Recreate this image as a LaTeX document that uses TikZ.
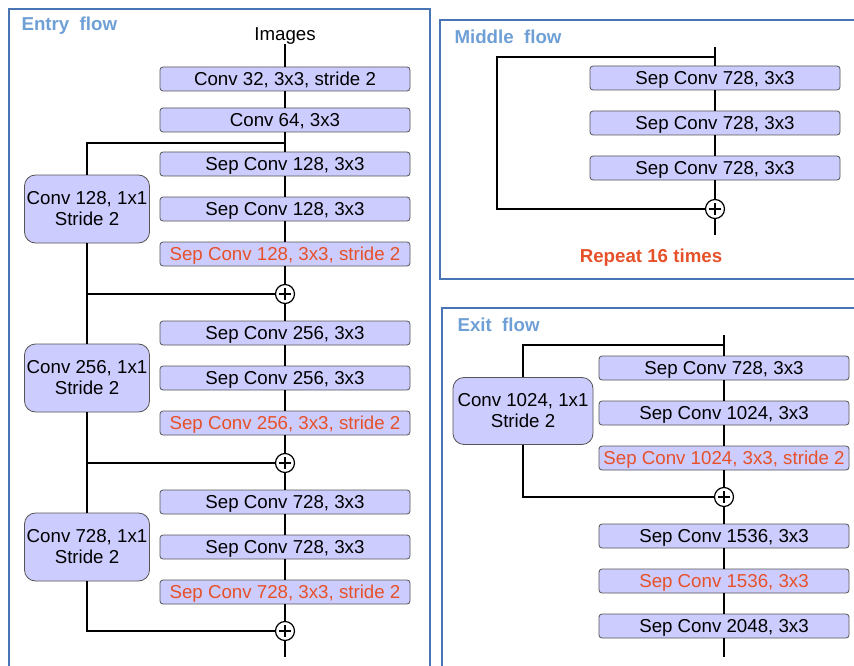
\documentclass[tikz,border=0pt]{standalone}
\usepackage{fontspec}
\setmainfont{Liberation Sans}
\usetikzlibrary{positioning}
\definecolor{lav}{HTML}{CCCCFF}
\definecolor{rimgray}{HTML}{555555}
\definecolor{panelblue}{HTML}{4A75B5}
\definecolor{titleblue}{HTML}{6E9FD5}
\definecolor{strred}{HTML}{E6512A}
\begin{document}
\begin{tikzpicture}[
  x=1pt, y=-1pt,
  layer/.style={rectangle, rounded corners=3pt, draw=rimgray, line width=0.8pt, fill=lav, minimum width=250pt, minimum height=24pt, inner sep=0pt, text height=13.4pt, text depth=0pt},
  shortcut/.style={rectangle, rounded corners=11pt, draw=rimgray, line width=0.8pt, fill=lav, minimum width=125pt, minimum height=68pt, inner sep=0pt, align=center},
  addop/.style={circle, draw, line width=1.2pt, fill=white, minimum size=19pt, inner sep=0pt,
    path picture={\draw[line width=1.2pt] ([xshift=-6pt]path picture bounding box.center) -- ([xshift=6pt]path picture bounding box.center);
                  \draw[line width=1.2pt] ([yshift=-6pt]path picture bounding box.center) -- ([yshift=6pt]path picture bounding box.center);}},
  panel/.style={draw=panelblue, line width=1.5pt},
  flowtitle/.style={anchor=west, text=titleblue, text height=13.4pt, text depth=0pt, font=\fontsize{18.7}{21}\selectfont\bfseries},
  link/.style={line width=1.5pt},
  stride/.style={text=strred},
  node distance=45pt,
  font=\fontsize{18.7}{21}\selectfont
]
\clip (0,0) rectangle (854,666);

% panels
\draw[panel] (9,9) rectangle (430,690);
\draw[panel] (440,20) rectangle (880,279);
\draw[panel] (442,308) rectangle (880,690);
\node[flowtitle] (tentry) at (18,24) {Entry\ \ flow};
\node[flowtitle] (tmiddle) at (451,37) {Middle\ \ flow};
\node[flowtitle] (texit) at (454,325) {Exit\ \ flow};

% entry flow
\node[text height=13.4pt, text depth=0pt] (img) at (285,34) {Images};
\node[layer] (c32) at (285,79) {Conv 32, 3x3, stride 2};
\node[layer] (c64) at (285,120) {Conv 64, 3x3};
\node[layer] (s1a) at (285,164) {Sep Conv 128, 3x3};
\node[layer, below of=s1a] (s1b) {Sep Conv 128, 3x3};
\node[layer, below of=s1b, stride] (s1c) {Sep Conv 128, 3x3, stride 2};
\node[addop] (p1) at (285,294) {};
\node[layer] (s2a) at (285,333) {Sep Conv 256, 3x3};
\node[layer, below of=s2a] (s2b) {Sep Conv 256, 3x3};
\node[layer, below of=s2b, stride] (s2c) {Sep Conv 256, 3x3, stride 2};
\node[addop] (p2) at (285,463) {};
\node[layer] (s3a) at (285,502) {Sep Conv 728, 3x3};
\node[layer, below of=s3a] (s3b) {Sep Conv 728, 3x3};
\node[layer, below of=s3b, stride] (s3c) {Sep Conv 728, 3x3, stride 2};
\node[addop] (p3) at (285,631) {};
\coordinate (eout) at (285,657);
\node[shortcut] (r1) at (87,209) {Conv 128, 1x1\\Stride 2};
\node[shortcut] (r2) at (87,378) {Conv 256, 1x1\\Stride 2};
\node[shortcut] (r3) at (87,547) {Conv 728, 1x1\\Stride 2};
\coordinate (b1) at (285,143);

\draw[link] (img) -- (c32);
\draw[link] (c32) -- (c64);
\draw[link] (c64) -- (s1a);
\draw[link] (s1a) -- (s1b);
\draw[link] (s1b) -- (s1c);
\draw[link] (s1c) -- (p1);
\draw[link] (p1) -- (s2a);
\draw[link] (s2a) -- (s2b);
\draw[link] (s2b) -- (s2c);
\draw[link] (s2c) -- (p2);
\draw[link] (p2) -- (s3a);
\draw[link] (s3a) -- (s3b);
\draw[link] (s3b) -- (s3c);
\draw[link] (s3c) -- (p3);
\draw[link] (p3) -- (eout);
\draw[link] (b1) -| (r1);
\draw[link] (r1) |- (p1);
\draw[link] (r1 |- p1) -- (r2);
\draw[link] (r2) |- (p2);
\draw[link] (r2 |- p2) -- (r3);
\draw[link] (r3) |- (p3);

% middle flow
\coordinate (min) at (715,47);
\coordinate (mb) at (715,57);
\coordinate (mleft) at (497,57);
\node[layer] (m1) at (715,78) {Sep Conv 728, 3x3};
\node[layer, below of=m1] (m2) {Sep Conv 728, 3x3};
\node[layer, below of=m2] (m3) {Sep Conv 728, 3x3};
\node[addop] (mp) at (715,209) {};
\coordinate (mout) at (715,235);
\node[text=strred, text height=13.4pt, text depth=0pt, font=\fontsize{18.7}{21}\selectfont\bfseries] (rep) at (651,256) {Repeat 16 times};

\draw[link] (min) -- (m1);
\draw[link] (m1) -- (m2);
\draw[link] (m2) -- (m3);
\draw[link] (m3) -- (mp);
\draw[link] (mp) -- (mout);
\draw[link] (mb) -- (mleft) |- (mp);

% exit flow
\coordinate (xin) at (724,335);
\coordinate (xb) at (724,345);
\node[layer] (x1) at (724,368) {Sep Conv 728, 3x3};
\node[layer, below of=x1] (x2) {Sep Conv 1024, 3x3};
\node[layer, below of=x2, stride] (x3) {Sep Conv 1024, 3x3, stride 2};
\node[addop] (xp) at (724,497) {};
\node[layer] (x4) at (724,536) {Sep Conv 1536, 3x3};
\node[layer, below of=x4, stride] (x5) {Sep Conv 1536, 3x3};
\node[layer, below of=x5] (x6) {Sep Conv 2048, 3x3};
\coordinate (xout) at (724,657);
\node[shortcut, minimum width=140pt, minimum height=67pt] (xr) at (523,411) {Conv 1024, 1x1\\Stride 2};

\draw[link] (xin) -- (x1);
\draw[link] (x1) -- (x2);
\draw[link] (x2) -- (x3);
\draw[link] (x3) -- (xp);
\draw[link] (xp) -- (x4);
\draw[link] (x4) -- (x5);
\draw[link] (x5) -- (x6);
\draw[link] (x6) -- (xout);
\draw[link] (xb) -| (xr);
\draw[link] (xr) |- (xp);
\end{tikzpicture}
\end{document}
